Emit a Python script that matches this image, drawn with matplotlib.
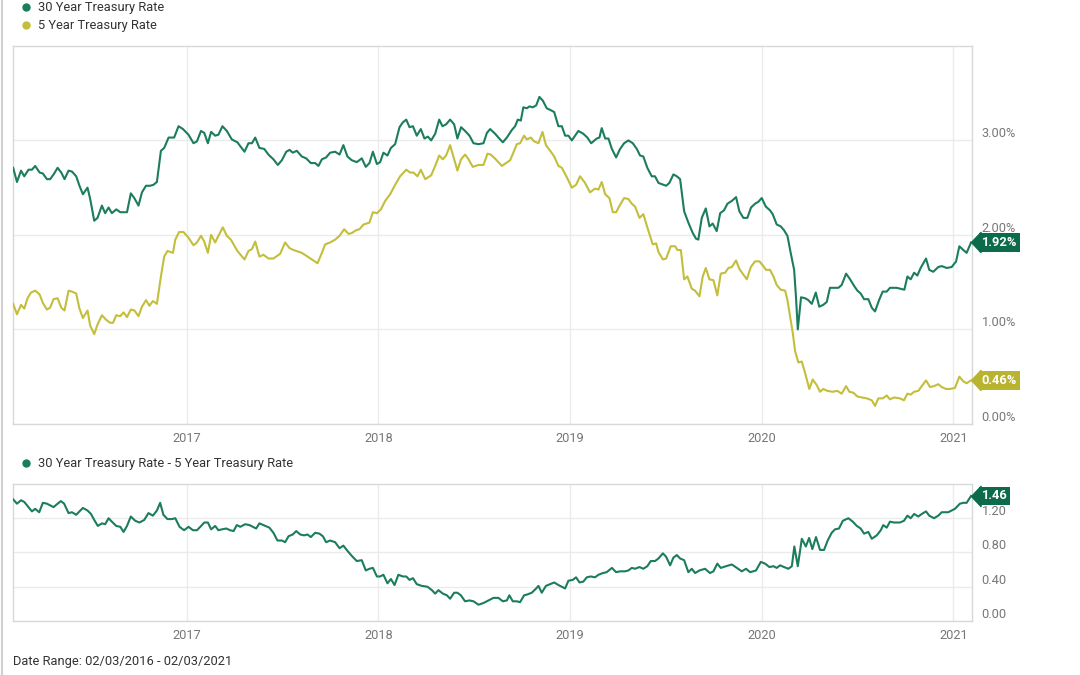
import matplotlib
matplotlib.use("Agg")
import matplotlib.pyplot as plt
from matplotlib.lines import Line2D

# ---- data (decimal years) ----
t30 = [2016.094, 2016.114, 2016.135, 2016.152, 2016.174, 2016.192, 2016.209, 2016.232, 2016.249, 2016.270,
       2016.287, 2016.305, 2016.326, 2016.345, 2016.362, 2016.383, 2016.401, 2016.423, 2016.440, 2016.458,
       2016.482, 2016.496, 2016.517, 2016.534, 2016.557, 2016.574, 2016.592, 2016.609, 2016.632, 2016.653,
       2016.688, 2016.708, 2016.726, 2016.748, 2016.766, 2016.787, 2016.809, 2016.826, 2016.844, 2016.865,
       2016.882, 2016.905, 2016.934, 2016.957, 2016.980,
       2017.009, 2017.035, 2017.053, 2017.074, 2017.091, 2017.110, 2017.127, 2017.148, 2017.165, 2017.186,
       2017.209, 2017.235, 2017.264, 2017.301, 2017.322, 2017.340, 2017.357, 2017.379, 2017.404, 2017.426,
       2017.452, 2017.475, 2017.496, 2017.519, 2017.536, 2017.553, 2017.574, 2017.600, 2017.623, 2017.647,
       2017.670, 2017.687, 2017.705, 2017.727, 2017.748, 2017.774, 2017.797, 2017.817, 2017.838, 2017.861,
       2017.887, 2017.913, 2017.934, 2017.953, 2017.971, 2017.992,
       2018.009, 2018.026, 2018.047, 2018.065, 2018.087, 2018.110, 2018.127, 2018.145, 2018.162, 2018.180,
       2018.200, 2018.221, 2018.240, 2018.258, 2018.275, 2018.296, 2018.317, 2018.334, 2018.353, 2018.374,
       2018.395, 2018.412, 2018.431, 2018.452, 2018.475, 2018.496, 2018.522, 2018.548, 2018.566, 2018.583,
       2018.609, 2018.626, 2018.649, 2018.670, 2018.696, 2018.713, 2018.727, 2018.743, 2018.756, 2018.774,
       2018.788, 2018.805, 2018.823, 2018.840, 2018.858, 2018.878, 2018.899, 2018.917, 2018.939, 2018.957,
       2018.974, 2018.991,
       2019.009, 2019.043, 2019.069, 2019.090, 2019.110, 2019.139, 2019.153, 2019.165, 2019.183, 2019.200,
       2019.218, 2019.240, 2019.261, 2019.282, 2019.304, 2019.327, 2019.348, 2019.365, 2019.382, 2019.403,
       2019.426, 2019.443, 2019.461, 2019.501, 2019.518, 2019.539, 2019.557, 2019.574, 2019.595, 2019.617,
       2019.640, 2019.657, 2019.669, 2019.687, 2019.708, 2019.727, 2019.744, 2019.765, 2019.783, 2019.803,
       2019.821, 2019.844, 2019.866, 2019.883, 2019.904, 2019.925, 2019.944, 2019.965, 2019.982,
       2020.000, 2020.021, 2020.043, 2020.057, 2020.078, 2020.099, 2020.116, 2020.134, 2020.151, 2020.169,
       2020.179, 2020.188, 2020.205, 2020.226, 2020.243, 2020.261, 2020.282, 2020.300, 2020.321, 2020.339,
       2020.356, 2020.377, 2020.400, 2020.417, 2020.440, 2020.461, 2020.482, 2020.499, 2020.516, 2020.534,
       2020.556, 2020.574, 2020.591, 2020.612, 2020.631, 2020.652, 2020.669, 2020.704, 2020.744, 2020.760,
       2020.777, 2020.795, 2020.812, 2020.829, 2020.857, 2020.874, 2020.895, 2020.921, 2020.939, 2020.965,
       2020.991,
       2021.014, 2021.031, 2021.052, 2021.069, 2021.092]
rate30 = [2.71, 2.56, 2.68, 2.62, 2.69, 2.69, 2.73, 2.66, 2.65, 2.59,
          2.59, 2.64, 2.71, 2.66, 2.59, 2.68, 2.67, 2.62, 2.52, 2.43,
          2.50, 2.38, 2.15, 2.18, 2.31, 2.23, 2.29, 2.23, 2.27, 2.24,
          2.24, 2.44, 2.39, 2.31, 2.45, 2.52, 2.52, 2.53, 2.56, 2.89,
          2.92, 3.03, 3.03, 3.15, 3.12,
          3.06, 2.97, 2.99, 3.10, 3.08, 2.97, 3.09, 3.05, 3.06, 3.15,
          3.10, 3.01, 2.98, 2.88, 2.97, 2.97, 3.03, 2.92, 2.91, 2.85,
          2.80, 2.74, 2.79, 2.88, 2.90, 2.87, 2.89, 2.83, 2.81, 2.76,
          2.76, 2.73, 2.80, 2.82, 2.87, 2.88, 2.85, 2.95, 2.83, 2.79,
          2.77, 2.81, 2.72, 2.76, 2.88, 2.75,
          2.77, 2.87, 2.84, 2.92, 2.96, 3.14, 3.19, 3.22, 3.14, 3.15,
          3.05, 3.12, 3.02, 3.04, 3.00, 3.07, 3.22, 3.15, 3.17, 3.22,
          3.17, 3.02, 3.14, 3.10, 3.05, 2.97, 2.96, 2.97, 3.08, 3.12,
          3.07, 3.03, 2.98, 3.03, 3.11, 3.15, 3.22, 3.21, 3.35, 3.34,
          3.36, 3.35, 3.37, 3.46, 3.42, 3.34, 3.32, 3.30, 3.15, 3.15,
          3.05, 3.05,
          3.00, 3.10, 3.07, 3.03, 2.97, 3.02, 3.03, 3.13, 3.02, 3.02,
          2.91, 2.82, 2.91, 2.97, 3.00, 2.97, 2.91, 2.84, 2.83, 2.71,
          2.62, 2.62, 2.55, 2.52, 2.55, 2.64, 2.62, 2.59, 2.25, 2.13,
          2.02, 1.96, 1.95, 2.18, 2.28, 2.09, 2.12, 2.04, 2.23, 2.26,
          2.33, 2.36, 2.40, 2.25, 2.18, 2.18, 2.29, 2.33, 2.35,
          2.39, 2.30, 2.26, 2.22, 2.11, 2.09, 2.05, 1.99, 1.81, 1.63,
          1.33, 1.00, 1.34, 1.33, 1.31, 1.27, 1.39, 1.24, 1.26, 1.29,
          1.44, 1.44, 1.44, 1.47, 1.59, 1.53, 1.46, 1.41, 1.38, 1.32,
          1.32, 1.23, 1.19, 1.31, 1.40, 1.40, 1.44, 1.44, 1.42, 1.56,
          1.53, 1.60, 1.57, 1.65, 1.75, 1.63, 1.61, 1.66, 1.67, 1.65,
          1.66,
          1.72, 1.88, 1.84, 1.81, 1.92]

t5 = [2016.094, 2016.114, 2016.135, 2016.152, 2016.169, 2016.187, 2016.209, 2016.232, 2016.249, 2016.270,
      2016.287, 2016.305, 2016.326, 2016.345, 2016.362, 2016.383, 2016.401, 2016.423, 2016.440, 2016.458,
      2016.482, 2016.496, 2016.517, 2016.534, 2016.557, 2016.580, 2016.600, 2016.615, 2016.632, 2016.653,
      2016.670, 2016.688, 2016.708, 2016.727, 2016.748, 2016.766, 2016.787, 2016.805, 2016.823, 2016.844,
      2016.865, 2016.882, 2016.899, 2016.928, 2016.940, 2016.960, 2016.983,
      2017.009, 2017.035, 2017.053, 2017.074, 2017.091, 2017.110, 2017.127, 2017.148, 2017.165, 2017.188,
      2017.209, 2017.230, 2017.264, 2017.301, 2017.322, 2017.340, 2017.357, 2017.379, 2017.400, 2017.426,
      2017.452, 2017.487, 2017.513, 2017.536, 2017.557, 2017.600, 2017.623, 2017.653, 2017.682, 2017.705,
      2017.722, 2017.748, 2017.774, 2017.797, 2017.821, 2017.844, 2017.861, 2017.884, 2017.901, 2017.922,
      2017.953, 2017.971, 2017.992,
      2018.013, 2018.035, 2018.061, 2018.087, 2018.113, 2018.145, 2018.165, 2018.183, 2018.204, 2018.221,
      2018.244, 2018.275, 2018.296, 2018.317, 2018.336, 2018.353, 2018.374, 2018.395, 2018.412, 2018.431,
      2018.452, 2018.470, 2018.492, 2018.522, 2018.548, 2018.569, 2018.586, 2018.612, 2018.644, 2018.666,
      2018.687, 2018.704, 2018.722, 2018.739, 2018.760, 2018.774, 2018.795, 2018.812, 2018.835, 2018.856,
      2018.874, 2018.896, 2018.917, 2018.939, 2018.957, 2018.983,
      2019.009, 2019.031, 2019.052, 2019.078, 2019.104, 2019.130, 2019.148, 2019.165, 2019.183, 2019.205,
      2019.223, 2019.240, 2019.261, 2019.282, 2019.304, 2019.322, 2019.339, 2019.362, 2019.382, 2019.403,
      2019.431, 2019.449, 2019.461, 2019.484, 2019.501, 2019.525, 2019.548, 2019.560, 2019.578, 2019.595,
      2019.612, 2019.635, 2019.652, 2019.675, 2019.692, 2019.708, 2019.727, 2019.748, 2019.768, 2019.786,
      2019.809, 2019.826, 2019.844, 2019.866, 2019.883, 2019.904, 2019.922, 2019.943, 2019.965, 2019.988,
      2020.008, 2020.022, 2020.043, 2020.061, 2020.078, 2020.099, 2020.122, 2020.134, 2020.151, 2020.162,
      2020.174, 2020.191, 2020.209, 2020.226, 2020.248, 2020.266, 2020.287, 2020.304, 2020.321, 2020.342,
      2020.370, 2020.394, 2020.417, 2020.440, 2020.457, 2020.478, 2020.499, 2020.522, 2020.548, 2020.574,
      2020.591, 2020.608, 2020.631, 2020.652, 2020.669, 2020.690, 2020.721, 2020.742, 2020.760, 2020.777,
      2020.795, 2020.817, 2020.835, 2020.857, 2020.878, 2020.899, 2020.921, 2020.939, 2020.961, 2020.982,
      2021.008, 2021.031, 2021.052, 2021.069, 2021.092]
rate5 = [1.27, 1.16, 1.26, 1.22, 1.33, 1.39, 1.41, 1.37, 1.28, 1.21,
         1.23, 1.32, 1.33, 1.23, 1.20, 1.41, 1.40, 1.38, 1.22, 1.12,
         1.20, 1.04, 0.95, 1.05, 1.15, 1.10, 1.07, 1.07, 1.15, 1.14,
         1.18, 1.13, 1.21, 1.20, 1.14, 1.24, 1.31, 1.25, 1.30, 1.27,
         1.56, 1.77, 1.83, 1.81, 1.95, 2.03, 2.03,
         1.97, 1.89, 1.92, 1.99, 1.93, 1.81, 2.00, 1.92, 1.99, 2.08,
         1.99, 1.95, 1.83, 1.74, 1.83, 1.85, 1.93, 1.77, 1.79, 1.75,
         1.75, 1.80, 1.92, 1.86, 1.84, 1.81, 1.78, 1.74, 1.70, 1.81,
         1.90, 1.92, 1.95, 1.99, 2.06, 2.01, 2.02, 2.05, 2.06, 2.11,
         2.13, 2.24, 2.23,
         2.27, 2.36, 2.43, 2.53, 2.62, 2.69, 2.66, 2.66, 2.62, 2.69,
         2.59, 2.63, 2.73, 2.84, 2.80, 2.84, 2.95, 2.80, 2.68, 2.80,
         2.85, 2.80, 2.72, 2.74, 2.74, 2.86, 2.85, 2.80, 2.73, 2.76,
         2.79, 2.87, 2.96, 2.97, 3.05, 3.01, 3.03, 2.99, 2.97, 3.09,
         2.95, 2.89, 2.83, 2.73, 2.71, 2.61,
         2.50, 2.53, 2.62, 2.55, 2.45, 2.49, 2.48, 2.56, 2.43, 2.39,
         2.24, 2.24, 2.32, 2.39, 2.38, 2.33, 2.30, 2.18, 2.22, 2.08,
         1.90, 1.91, 1.82, 1.74, 1.75, 1.88, 1.88, 1.84, 1.84, 1.53,
         1.56, 1.43, 1.41, 1.35, 1.56, 1.65, 1.53, 1.52, 1.36, 1.59,
         1.60, 1.65, 1.66, 1.73, 1.64, 1.58, 1.53, 1.66, 1.72, 1.72,
         1.67, 1.63, 1.63, 1.56, 1.47, 1.42, 1.41, 1.31, 1.10, 0.96,
         0.77, 0.65, 0.66, 0.54, 0.37, 0.47, 0.41, 0.34, 0.37, 0.35,
         0.34, 0.35, 0.32, 0.40, 0.34, 0.33, 0.29, 0.28, 0.27, 0.25,
         0.19, 0.27, 0.27, 0.30, 0.26, 0.28, 0.27, 0.25, 0.32, 0.31,
         0.34, 0.35, 0.40, 0.46, 0.39, 0.40, 0.42, 0.39, 0.37, 0.37,
         0.38, 0.50, 0.45, 0.43, 0.46]

t_spread = [2016.094, 2016.114, 2016.135, 2016.152, 2016.174, 2016.192, 2016.209, 2016.230, 2016.249, 2016.270,
            2016.305, 2016.326, 2016.343, 2016.360, 2016.383, 2016.401, 2016.423, 2016.440, 2016.458, 2016.482,
            2016.500, 2016.517, 2016.536, 2016.557, 2016.574, 2016.592, 2016.609, 2016.632, 2016.653, 2016.670,
            2016.688, 2016.708, 2016.731, 2016.753, 2016.778, 2016.800, 2016.823, 2016.844, 2016.861, 2016.878,
            2016.899, 2016.922, 2016.940, 2016.962, 2016.986,
            2017.009, 2017.032, 2017.053, 2017.075, 2017.091, 2017.110, 2017.127, 2017.148, 2017.165, 2017.183,
            2017.206, 2017.226, 2017.244, 2017.261, 2017.279, 2017.305, 2017.327, 2017.362, 2017.379, 2017.400,
            2017.431, 2017.452, 2017.473, 2017.496, 2017.513, 2017.531, 2017.553, 2017.571, 2017.592, 2017.612,
            2017.630, 2017.647, 2017.670, 2017.692, 2017.710, 2017.727, 2017.748, 2017.774, 2017.797, 2017.817,
            2017.838, 2017.861, 2017.887, 2017.913, 2017.934, 2017.953, 2017.971, 2017.992,
            2018.009, 2018.026, 2018.047, 2018.065, 2018.084, 2018.104, 2018.127, 2018.145, 2018.162, 2018.180,
            2018.200, 2018.226, 2018.256, 2018.279, 2018.296, 2018.313, 2018.336, 2018.357, 2018.374, 2018.395,
            2018.412, 2018.430, 2018.452, 2018.475, 2018.496, 2018.522, 2018.548, 2018.574, 2018.600, 2018.626,
            2018.649, 2018.670, 2018.683, 2018.701, 2018.722, 2018.739, 2018.760, 2018.777, 2018.800, 2018.823,
            2018.835, 2018.852, 2018.874, 2018.896, 2018.917, 2018.939, 2018.957, 2018.974, 2018.991,
            2019.014, 2019.031, 2019.049, 2019.069, 2019.087, 2019.108, 2019.130, 2019.148, 2019.171, 2019.191,
            2019.218, 2019.240, 2019.261, 2019.287, 2019.304, 2019.322, 2019.339, 2019.362, 2019.382, 2019.403,
            2019.421, 2019.443, 2019.461, 2019.484, 2019.501, 2019.522, 2019.539, 2019.557, 2019.574, 2019.595,
            2019.617, 2019.635, 2019.652, 2019.675, 2019.704, 2019.730, 2019.748, 2019.768, 2019.786, 2019.814,
            2019.844, 2019.870, 2019.896, 2019.918, 2019.939, 2019.970, 2019.995,
            2020.017, 2020.040, 2020.061, 2020.078, 2020.096, 2020.116, 2020.139, 2020.157, 2020.170, 2020.188,
            2020.209, 2020.230, 2020.247, 2020.264, 2020.283, 2020.304, 2020.325, 2020.344, 2020.365, 2020.382,
            2020.403, 2020.423, 2020.452, 2020.475, 2020.496, 2020.516, 2020.534, 2020.556, 2020.574, 2020.600,
            2020.621, 2020.634, 2020.652, 2020.669, 2020.690, 2020.721, 2020.742, 2020.760, 2020.777, 2020.795,
            2020.817, 2020.835, 2020.857, 2020.874, 2020.899, 2020.921, 2020.939, 2020.973,
            2021.008, 2021.034, 2021.052, 2021.069, 2021.092]
spread = [1.42, 1.37, 1.41, 1.39, 1.33, 1.28, 1.31, 1.27, 1.38, 1.37,
          1.33, 1.37, 1.40, 1.37, 1.26, 1.27, 1.24, 1.28, 1.32, 1.29,
          1.25, 1.18, 1.11, 1.14, 1.13, 1.20, 1.16, 1.11, 1.10, 1.04,
          1.11, 1.22, 1.17, 1.15, 1.18, 1.26, 1.23, 1.29, 1.38, 1.24,
          1.19, 1.19, 1.20, 1.10, 1.06,
          1.10, 1.06, 1.06, 1.11, 1.15, 1.15, 1.07, 1.11, 1.06, 1.07,
          1.08, 1.06, 1.05, 1.12, 1.10, 1.13, 1.12, 1.08, 1.14, 1.12,
          1.09, 1.03, 0.94, 0.94, 0.92, 0.99, 1.01, 1.05, 1.01, 1.00,
          1.01, 0.98, 1.03, 1.02, 0.99, 0.92, 0.94, 0.92, 0.85, 0.88,
          0.82, 0.76, 0.70, 0.71, 0.59, 0.61, 0.62, 0.52,
          0.52, 0.54, 0.44, 0.49, 0.42, 0.54, 0.52, 0.52, 0.48, 0.50,
          0.43, 0.41, 0.40, 0.36, 0.32, 0.36, 0.32, 0.30, 0.26, 0.33,
          0.33, 0.30, 0.23, 0.24, 0.23, 0.19, 0.21, 0.24, 0.27, 0.27,
          0.23, 0.24, 0.30, 0.23, 0.23, 0.22, 0.30, 0.31, 0.33, 0.38,
          0.41, 0.33, 0.41, 0.43, 0.45, 0.42, 0.40, 0.38, 0.47,
          0.48, 0.51, 0.45, 0.46, 0.51, 0.52, 0.51, 0.54, 0.56, 0.57,
          0.62, 0.57, 0.58, 0.58, 0.59, 0.62, 0.61, 0.63, 0.61, 0.64,
          0.70, 0.70, 0.73, 0.79, 0.75, 0.65, 0.74, 0.77, 0.73, 0.71,
          0.57, 0.61, 0.56, 0.59, 0.61, 0.56, 0.58, 0.67, 0.62, 0.64,
          0.66, 0.62, 0.58, 0.61, 0.57, 0.59, 0.69,
          0.67, 0.63, 0.64, 0.62, 0.65, 0.63, 0.61, 0.64, 0.87, 0.64,
          0.96, 0.87, 0.97, 0.84, 0.98, 0.83, 0.83, 0.94, 1.03, 1.07,
          1.08, 1.17, 1.20, 1.16, 1.11, 1.08, 1.02, 1.04, 0.96, 1.00,
          1.06, 1.12, 1.09, 1.16, 1.15, 1.15, 1.17, 1.23, 1.20, 1.25,
          1.22, 1.25, 1.28, 1.23, 1.20, 1.23, 1.27, 1.27,
          1.31, 1.37, 1.38, 1.38, 1.46]

years = [2017, 2018, 2019, 2020, 2021]
rate_ticks = [0, 1, 2, 3]
spread_ticks = [0, 0.4, 0.8, 1.2]

GREEN = "#1b7d5c"
GREEN_TAG = "#0b6b4a"
YELLOW = "#c3be3c"
YELLOW_TAG = "#b8b430"
GRID = "#ebebeb"
SPINE = "#d8d8d8"
TICK = "#777777"
TEXT = "#333333"

plt.rcParams["font.family"] = ["Roboto", "DejaVu Sans"]

fig = plt.figure(figsize=(10.8, 6.75), dpi=100)
ax1 = fig.add_axes([0.012, 0.372, 0.888, 0.560])
ax2 = fig.add_axes([0.012, 0.080, 0.888, 0.203])


def style(ax, ticks, labels, top):
    ax.set_xlim(2016.093, 2021.097)
    ax.set_ylim(0, top)
    ax.set_xticks(years, [str(y) for y in years])
    ax.set_yticks(ticks, labels, va="bottom")
    ax.yaxis.tick_right()
    ax.tick_params(axis="both", length=0, colors=TICK, labelsize=9.2)
    ax.tick_params(axis="y", pad=7)
    ax.tick_params(axis="x", pad=6)
    ax.grid(True, color=GRID, lw=1)
    ax.set_axisbelow(True)
    for s in ax.spines.values():
        s.set_color(SPINE)
        s.set_linewidth(1)


def tag(ax, x, y, text, color):
    # arrow head + box at the end of a line
    ax.plot([x], [y], marker=[(0, 0), (0.95, 1), (0.95, -1), (0, 0)], ms=14.5,
            color=color, clip_on=False, zorder=5)
    ax.annotate(text, xy=(x, y), xytext=(7.5, 0), textcoords="offset points",
                ha="left", va="center", color="white", fontsize=9.3, fontweight="bold",
                bbox=dict(boxstyle="square,pad=0.22", fc=color, ec="none"),
                annotation_clip=False, zorder=6)


# top panel
ax1.plot(t30, rate30, color=GREEN, lw=1.5, zorder=3)
ax1.plot(t5, rate5, color=YELLOW, lw=1.5, zorder=3)
style(ax1, rate_ticks, [f"{v:.2f}%" for v in rate_ticks], 4)
tag(ax1, t30[-1], rate30[-1], f"{rate30[-1]:.2f}%", GREEN_TAG)
tag(ax1, t5[-1], rate5[-1], f"{rate5[-1]:.2f}%", YELLOW_TAG)

# bottom panel
ax2.plot(t_spread, spread, color=GREEN, lw=1.5, zorder=3)
style(ax2, spread_ticks, [f"{v:.2f}" for v in spread_ticks], 1.6)
tag(ax2, t_spread[-1], spread[-1], f"{spread[-1]:.2f}", GREEN_TAG)

# legends and footer
W, H = 1080, 675


def legend_item(x, y, color, label):
    fig.add_artist(Line2D([x / W], [1 - y / H], transform=fig.transFigure,
                          marker="o", ms=5, color=color, ls=""))
    fig.text((x + 12) / W, 1 - y / H, label, va="center", ha="left",
             fontsize=9.3, color=TEXT)


legend_item(26, 7, GREEN, "30 Year Treasury Rate")
legend_item(26, 25, YELLOW, "5 Year Treasury Rate")
legend_item(26, 463, GREEN, "30 Year Treasury Rate - 5 Year Treasury Rate")
fig.text(13 / W, 1 - 662 / H, "Date Range: 02/03/2016 - 02/03/2021",
         va="center", ha="left", fontsize=9.3, color=TEXT)

fig.add_artist(Line2D([0.0015, 0.0015], [0, 1], transform=fig.transFigure,
                      color="#d0d0d0", lw=1.5))

fig.savefig("out.png", dpi=100)
